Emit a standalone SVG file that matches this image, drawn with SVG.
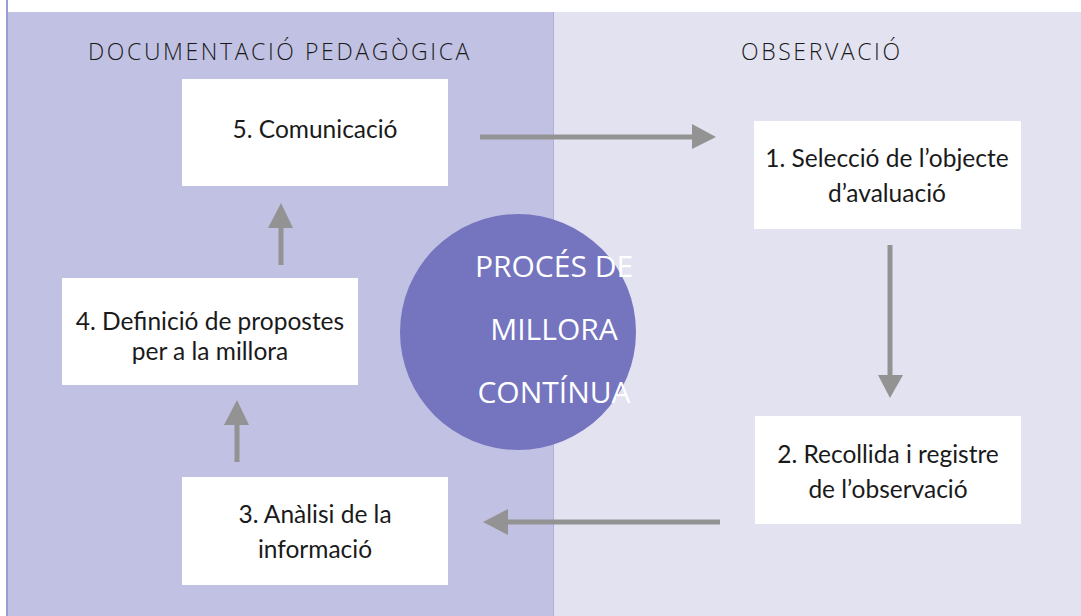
<svg xmlns="http://www.w3.org/2000/svg" width="1081" height="616" viewBox="0 0 1081 616">
<defs>
<style>
.box{fill:#ffffff}
.t{font-family:Lato,"Open Sans","Liberation Sans",sans-serif;font-size:24.5px;fill:#1a1a1a;text-anchor:middle}
.h{font-family:"Open Sans",Lato,"Liberation Sans",sans-serif;font-weight:300;font-size:23px;letter-spacing:2.6px;fill:#1a1a1a}
.c{font-family:"Open Sans",Lato,"Liberation Sans",sans-serif;font-size:30px;fill:#ffffff;text-anchor:middle}
.ln{stroke:#939393;stroke-width:5;fill:none}
.hd{fill:#939393}
</style>
</defs>
<rect x="0" y="0" width="1081" height="616" fill="#ffffff"/>
<line x1="7" y1="0" x2="7" y2="616" stroke="#9c9cd4" stroke-width="2"/>
<rect x="8" y="12" width="545" height="604" fill="#c1c1e3"/>
<rect x="553" y="12" width="528" height="604" fill="#e3e2f1"/>
<line x1="553.5" y1="12" x2="553.5" y2="616" stroke="#b0afd8" stroke-width="1"/>
<text class="h" x="88" y="60">DOCUMENTACIÓ PEDAGÒGICA</text>
<text class="h" x="741" y="60">OBSERVACIÓ</text>
<g id="circle">
<circle cx="518" cy="332" r="118" fill="#7474bf"/>
<text class="c" x="554" y="277">PROCÉS DE</text>
<text class="c" x="554" y="340">MILLORA</text>
<text class="c" x="554" y="403">CONTÍNUA</text>
</g>
<g id="node5">
<rect class="box" x="182" y="79" width="266" height="107"/>
<text class="t" x="315" y="138">5. Comunicació</text>
</g>
<g id="node1">
<rect class="box" x="754" y="121" width="267" height="108"/>
<text class="t" x="887" y="167">1. Selecció de l’objecte</text>
<text class="t" x="887" y="202">d’avaluació</text>
</g>
<g id="node2">
<rect class="box" x="755" y="416" width="266" height="108"/>
<text class="t" x="888" y="463">2. Recollida i registre</text>
<text class="t" x="888" y="498">de l’observació</text>
</g>
<g id="node3">
<rect class="box" x="182" y="477" width="266" height="108"/>
<text class="t" x="315" y="523">3. Anàlisi de la</text>
<text class="t" x="315" y="558">informació</text>
</g>
<g id="node4">
<rect class="box" x="62" y="278" width="296" height="107"/>
<text class="t" x="210" y="330">4. Definició de propostes</text>
<text class="t" x="210" y="360">per a la millora</text>
</g>
<g id="connectors">
<line class="ln" x1="480" y1="137" x2="694" y2="137"/>
<polygon class="hd" points="692,124 716,137 692,149"/>
<line class="ln" x1="890" y1="245" x2="890" y2="377"/>
<polygon class="hd" points="878,375 903,375 890,398"/>
<line class="ln" x1="720" y1="522" x2="506" y2="522"/>
<polygon class="hd" points="508,509 483,522 508,535"/>
<line class="ln" x1="281" y1="265" x2="281" y2="226"/>
<polygon class="hd" points="268,228 281,203 293,228"/>
<line class="ln" x1="237" y1="462" x2="237" y2="423"/>
<polygon class="hd" points="224,425 237,400 249,425"/>
</g>
</svg>
